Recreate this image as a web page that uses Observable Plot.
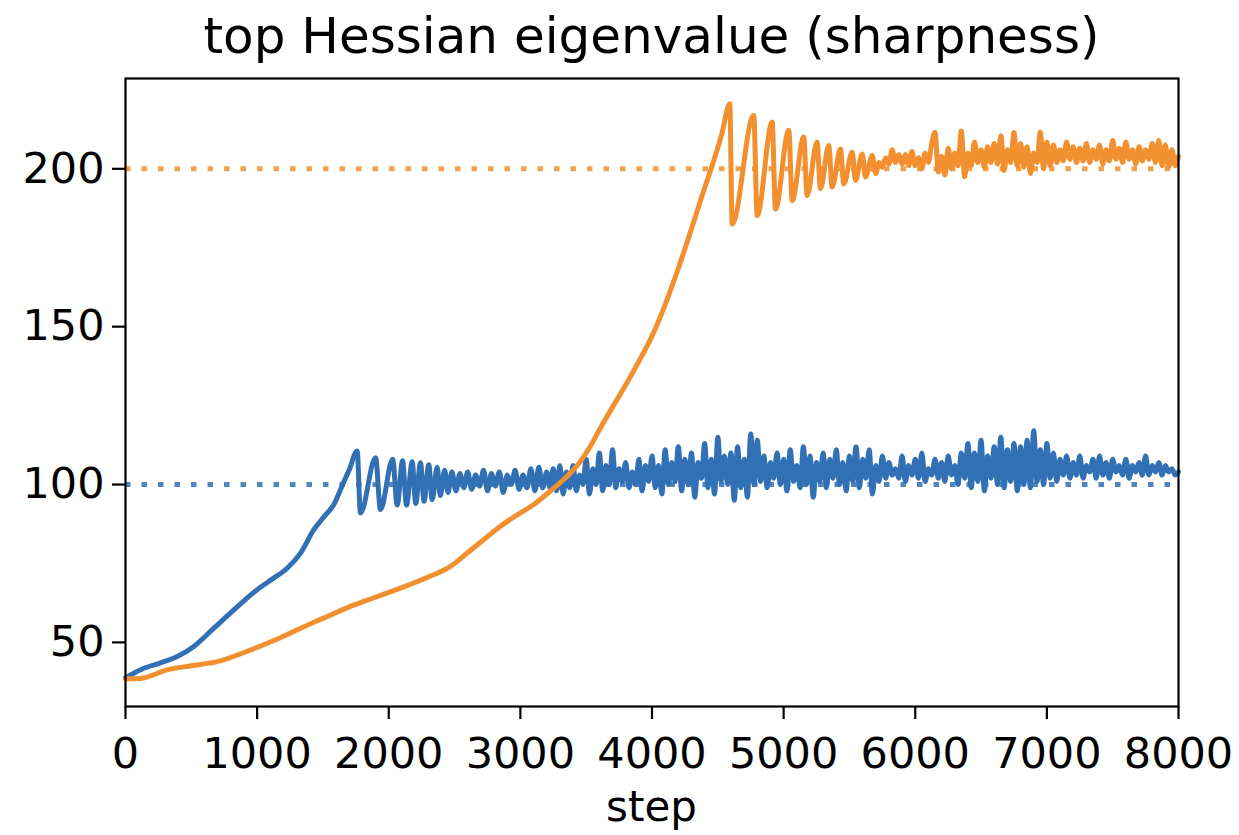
<!DOCTYPE html>
<html>
<head>
<meta charset="utf-8">
<script src="https://cdn.jsdelivr.net/npm/d3@7"></script>
<script src="https://cdn.jsdelivr.net/npm/@observablehq/plot@0.6"></script>
<style>
  html, body { margin: 0; padding: 0; background: #ffffff; }
  body { width: 1239px; height: 835px; overflow: hidden; font-family: "DejaVu Sans", sans-serif; color: #000; }
  #title { box-sizing: border-box; width: 1239px; height: 70px; line-height: 72px; padding-left: 64px;
           text-align: center; font-size: 50px; white-space: nowrap; }
  #xlabel { box-sizing: border-box; width: 1239px; height: 48px; line-height: 44px; padding-left: 64px;
            text-align: center; font-size: 42px; }
  svg { display: block; }
</style>
</head>
<body>
<div id="title">top Hessian eigenvalue (sharpness)</div>
<div id="chart"></div>
<div id="xlabel">step</div>
<script>
// ---- data ----
const xTicks = [0, 1000, 2000, 3000, 4000, 5000, 6000, 7000, 8000];
const yTicks = [50, 100, 150, 200];
const thresholds = [100, 200];           // dotted reference levels (blue, orange)
const seriesNames = ["blue run", "orange run"];

// blue run: rise + transient oscillation (irregular steps)
const blueHeadSteps = [0, 13, 139, 250, 393, 519, 671, 823, 1000, 1120, 1228, 1330, 1431, 1510, 1583, 1650, 1700, 1760,
  1785, 1900, 1937, 2030, 2064, 2105, 2135, 2178, 2205, 2241, 2268, 2304, 2330, 2368, 2392, 2425, 2450, 2480, 2510,
  2540, 2570, 2600, 2630, 2660, 2690, 2720, 2750, 2780, 2810, 2840, 2870, 2900, 2930, 2960, 2990, 3020, 3050, 3080,
  3110, 3140, 3170];
const blueHeadValues = [38.8, 39.1, 41.8, 43.3, 45.5, 48.7, 54.5, 60.3, 66.7, 70.2, 73.5, 78.3, 85.7, 89.9, 93.7, 100, 104.7, 110.6,
  91, 108.5, 92.1, 108, 93.5, 107.5, 93.5, 107.2, 94, 106.9, 94.7, 106.3, 95.2, 105.5, 96.5, 104.5, 97.5, 104, 98,
  103.5, 99, 104, 98.5, 103, 99.5, 104.5, 98, 103.5, 99.5, 104, 97.5, 103, 100, 104.5, 98.5, 103, 99, 105,
  98, 105.5, 99];
// blue run: noisy plateau, sampled every 25 steps from step 3200 to 8000
const blueBandStart = 3200;
const blueBandEvery = 25;
const blueBandValues = [
  104, 99, 105, 98, 106, 97, 104, 99,
  106, 98, 103, 100, 108, 97, 105, 100,
  110, 98, 106, 100, 111, 99, 105, 101,
  107, 99, 104, 100, 108, 98, 106, 101,
  109, 99, 106, 97, 111, 100, 107, 101,
  112, 98, 108, 100, 110, 96, 107, 102,
  113, 99, 108, 97, 115, 101, 109, 100,
  110, 95, 112, 99, 108, 96, 116, 100,
  114, 101, 109, 99, 107, 102, 110, 100,
  108, 98, 111, 101, 106, 99, 112, 100,
  109, 96, 107, 101, 110, 99, 108, 102,
  111, 100, 107, 98, 109, 101, 112, 99,
  108, 102, 111, 97, 106, 101, 109, 102,
  107, 103, 105, 102, 109, 101, 106, 103,
  108, 102, 110, 101, 105, 103, 108, 102,
  107, 101, 109, 103, 106, 100, 110, 102,
  113, 99, 110, 101, 114, 98, 109, 102,
  112, 100, 115, 99, 111, 101, 113, 98,
  112, 100, 114, 99, 117, 101, 111, 100,
  113, 102, 110, 101, 108, 103, 109, 102,
  107, 103, 109, 102, 106, 104, 108, 102,
  109, 103, 107, 102, 108, 104, 106, 103,
  108, 102, 106, 104, 107, 103, 109, 103,
  106, 104, 107, 103, 106, 104, 105, 103,
  104];

// orange run: rise + transient oscillation (irregular steps)
const orangeHeadSteps = [0, 114, 317, 500, 697, 950, 1150, 1330, 1500, 1709, 1900, 2089, 2300, 2469, 2596, 2720, 2849,
  2980, 3102, 3230, 3355, 3450, 3533, 3609, 3700, 3800, 3900, 4000, 4100, 4200, 4300, 4400, 4457, 4530, 4591,
  4609, 4773, 4799, 4913, 4938, 5039, 5065, 5153, 5178, 5254, 5280, 5343, 5369, 5432, 5457, 5521, 5546, 5597,
  5622, 5673];
const orangeHeadValues = [38.5, 38.6, 41.3, 42.6, 43.9, 47.6, 51, 54.5, 57.6, 61.4, 64.3, 67.2, 70.7, 74.1, 78.3, 82.5, 86.8,
  90.5, 93.7, 98, 102.6, 107, 112.2, 118, 124.5, 131.5, 139, 147, 157, 168.5, 181, 194, 201, 211, 220.6,
  182.5, 216.9, 185.2, 214.8, 187.3, 212.2, 189.9, 210.1, 191.5, 208.5, 193.7, 207.4, 194.2, 206.3, 195.2, 205.3, 196.3, 204.7,
  197.4, 204.2];
// orange run: noisy plateau, sampled every 25 steps from step 5700 to 8000
const orangeBandStart = 5700;
const orangeBandEvery = 25;
const orangeBandValues = [
  198.5, 202, 200.5, 203.5, 201.5, 206, 202, 204.5, 201.5, 204.5, 201, 205.5,
  201, 203.5, 200, 205, 202, 208, 211.6, 199, 204, 198, 206.5, 200, 205, 201, 212, 197.5, 205, 201, 208.5, 202,
  206, 200.5, 207, 202, 208, 201.5, 210.5, 199.5, 206, 202, 211.5, 201, 208, 200.5, 207, 198.5, 205, 202, 211.6, 200,
  208.5, 201, 207.5, 202, 206, 202.5, 208.5, 203, 207, 202, 206.5, 202.5, 208, 202, 206, 203, 207.5, 201.5, 206, 202.5,
  209, 203, 206.5, 202, 208.5, 203, 206, 201.5, 207, 202.5, 206, 203, 208, 202, 209, 201, 207.5, 200.5, 206, 201,
  204];

// ---- build tables ----
function build(name, headSteps, headValues, bandStart, bandEvery, bandValues) {
  const rows = headSteps.map((s, i) => ({series: name, step: s, value: headValues[i]}));
  bandValues.forEach((v, i) => rows.push({series: name, step: bandStart + i * bandEvery, value: v}));
  return rows;
}
const blueData = build(seriesNames[0], blueHeadSteps, blueHeadValues, blueBandStart, blueBandEvery, blueBandValues);
const orangeData = build(seriesNames[1], orangeHeadSteps, orangeHeadValues, orangeBandStart, orangeBandEvery, orangeBandValues);

const BLUE = "#3270b5";
const ORANGE = "#f2902f";

const chart = Plot.plot({
  width: 1239,
  height: 715,
  marginTop: 8,
  marginRight: 61,
  marginBottom: 79,
  marginLeft: 125,
  style: {fontFamily: "DejaVu Sans", fontSize: "43px", color: "#000", background: "#fff", overflow: "visible"},
  x: {domain: [0, 8000], label: null},
  y: {domain: [29.7, 228.6], label: null},
  marks: [
    Plot.ruleY([thresholds[1]], {stroke: ORANGE, strokeWidth: 5, strokeDasharray: "5.5,11", strokeOpacity: 0.85}),
    Plot.ruleY([thresholds[0]], {stroke: BLUE, strokeWidth: 5, strokeDasharray: "5.5,11", strokeOpacity: 0.85}),
    Plot.line(blueData, {x: "step", y: "value", stroke: BLUE, strokeWidth: 5, strokeLinejoin: "round", curve: "monotone-x"}),
    Plot.line(orangeData, {x: "step", y: "value", stroke: ORANGE, strokeWidth: 5, strokeLinejoin: "round", curve: "monotone-x"}),
    Plot.frame({stroke: "#000", strokeWidth: 2.2}),
    Plot.axisX({ticks: xTicks, tickFormat: d => String(d), tickSize: 13, tickPadding: 18, strokeWidth: 2.2, label: null}),
    Plot.axisY({ticks: yTicks, tickFormat: d => String(d), tickSize: 13, tickPadding: 8, strokeWidth: 2.2, label: null})
  ]
});
document.getElementById("chart").appendChild(chart);
</script>
</body>
</html>
